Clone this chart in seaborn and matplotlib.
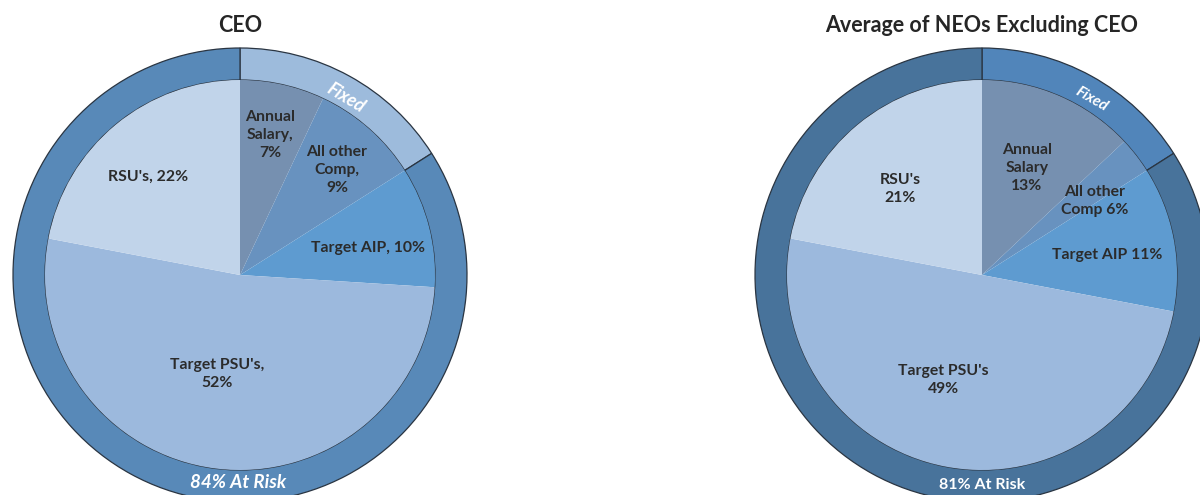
"""
CEO vs NEO pay mix - two pies with a Fixed / At Risk outer ring
"""

import matplotlib
matplotlib.use('Agg')
import matplotlib.pyplot as plt
import seaborn as sns

sns.set_style("white")
plt.rcParams['font.family'] = ['Lato', 'DejaVu Sans']

# ---- data (wedge sizes, label text as printed) ----
components = ['Annual Salary', 'All other Comp', 'Target AIP', "Target PSU's", "RSU's"]
ceo_values = [7, 9, 10, 52, 22]
neo_values = [13, 3, 12, 50, 22]
ceo_labels = ['Annual\nSalary,\n7%', 'All other\nComp,\n9%', 'Target AIP, 10%',
              "Target PSU's,\n52%", "RSU's, 22%"]
neo_labels = ['Annual\nSalary\n13%', 'All other\nComp 6%', 'Target AIP 11%',
              "Target PSU's\n49%", "RSU's\n21%"]

ring_groups = ['Fixed', 'At Risk']
ceo_ring = [16, 84]
neo_ring = [16, 84]
ceo_ring_labels = ['Fixed', '84% At Risk']
neo_ring_labels = ['Fixed', '81% At Risk']

titles = ['CEO', 'Average of NEOs Excluding CEO']

# colours
inner_colors = ['#7690b0', '#6892bf', '#5e9bd0', '#9cb9dd', '#c1d4ea']
ceo_ring_colors = ['#9dbbdc', '#5889b8']
neo_ring_colors = ['#5185ba', '#48739b']

# ---- layout (pixel space, y measured from top) ----
W, H = 1200, 495
fig = plt.figure(figsize=(12, 4.95), dpi=100)
ax = fig.add_axes([0, 0, 1, 1])

R_OUT, R_IN = 227, 195
centers = [(240, 275), (982, 275)]


def py(y):
    return H - y


panels = [
    (ceo_values, ceo_labels, ceo_ring, ceo_ring_colors, ceo_ring_labels,
     [(270, 135), (337, 170), (368, 248), (217, 374), (148, 177)],
     [(346, 98, -31, 13, 'italic'), (238, 483, 0, 13.5, 'italic')]),
    (neo_values, neo_labels, neo_ring, neo_ring_colors, neo_ring_labels,
     [(1027, 168), (1095, 201), (1107, 255), (943, 380), (900, 189)],
     [(1092, 99, -30, 11, 'italic'), (982, 485, 0, 11.5, 'normal')]),
]

for i, (vals, labs, ring, rcols, rlabs, lab_pos, ring_pos) in enumerate(panels):
    cx, cy = centers[i]
    # outer ring
    ax.pie(ring, colors=rcols, radius=R_OUT, center=(cx, py(cy)),
           startangle=90, counterclock=False,
           wedgeprops=dict(width=R_OUT - R_IN, edgecolor='#2a3542', linewidth=0.9))
    # inner pie
    ax.pie(vals, colors=inner_colors, radius=R_IN, center=(cx, py(cy)),
           startangle=90, counterclock=False,
           wedgeprops=dict(edgecolor='none', linewidth=0))
    # slice labels
    for txt, (x, y) in zip(labs, lab_pos):
        ax.text(x, py(y), txt, ha='center', va='center', fontsize=11.3,
                fontweight='bold', color='#2b2b2b', linespacing=1.4)
    # ring labels
    for txt, (x, y, rot, fs, style) in zip(rlabs, ring_pos):
        ax.text(x, py(y), txt, ha='center', va='center', fontsize=fs,
                fontweight='bold', fontstyle=style, color='white', rotation=rot)
    # title
    ax.text(cx, py(26), titles[i], ha='center', va='center', fontsize=15.5,
            fontweight='bold', color='#262626')

ax.set_xlim(0, W)
ax.set_ylim(0, H)
ax.set_aspect('equal')
ax.axis('off')

plt.savefig('out.png', dpi=100)
plt.close()
